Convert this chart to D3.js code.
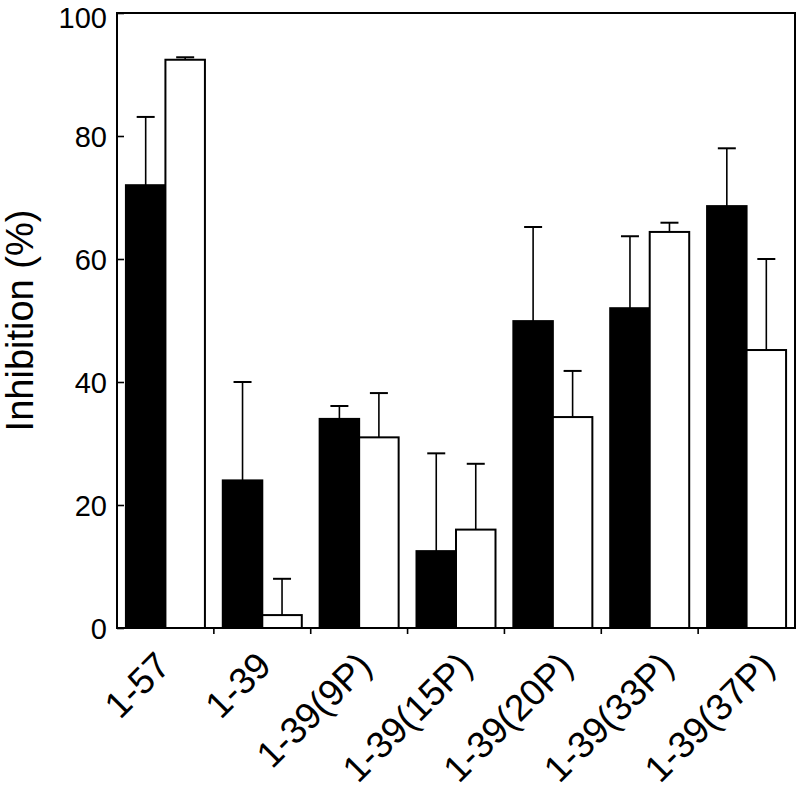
<!DOCTYPE html>
<html><head><meta charset="utf-8">
<script src="https://cdn.jsdelivr.net/npm/d3@7"></script>
<style>body{margin:0;background:#fff}</style></head>
<body><svg id="c" width="800" height="795"></svg>
<script>
const categories = ["1-57","1-39","1-39(9P)","1-39(15P)","1-39(20P)","1-39(33P)","1-39(37P)"];
const blackValues = [72.0, 24.0, 34.0, 12.5, 49.9, 52.0, 68.6];
const blackErrors = [11.1, 16.0, 2.1, 15.9, 15.3, 11.7, 9.4];
const whiteValues = [92.4, 2.1, 31.0, 16.0, 34.3, 64.4, 45.2];
const whiteErrors = [0.4, 5.9, 7.2, 10.7, 7.5, 1.5, 14.8];
const yTicks = [0, 20, 40, 60, 80, 100];

const svg = d3.select("#c");
const L = 117, R = 795, T = 13, B = 628;
const x = d3.scaleBand().domain(categories).range([L, R]);
const y = d3.scaleLinear().domain([0, 100]).range([B, T]);
const bw = 39.5;
const font = "Liberation Sans, Arial, sans-serif";

// frame
svg.append("rect").attr("x", L).attr("y", T).attr("width", R - L).attr("height", B - T)
  .attr("fill", "none").attr("stroke", "#000").attr("stroke-width", 2);

const series = [
  {vals: blackValues, errs: blackErrors, fill: "#000", off: -bw},
  {vals: whiteValues, errs: whiteErrors, fill: "#fff", off: 0}
];
series.forEach(s => {
  const g = svg.append("g");
  categories.forEach((c, i) => {
    const cx = x(c) + x.bandwidth() / 2 + s.off;
    const top = y(s.vals[i]);
    const ex = cx + bw / 2;
    const etop = y(s.vals[i] + s.errs[i]);
    g.append("line").attr("x1", ex).attr("x2", ex).attr("y1", top).attr("y2", etop)
      .attr("stroke", "#000").attr("stroke-width", 1.6);
    g.append("line").attr("x1", ex - 9).attr("x2", ex + 9).attr("y1", etop).attr("y2", etop)
      .attr("stroke", "#000").attr("stroke-width", 2);
    g.append("rect").attr("x", cx).attr("y", top).attr("width", bw).attr("height", B - top)
      .attr("fill", s.fill).attr("stroke", "#000").attr("stroke-width", 2);
  });
});

// y axis
const ya = svg.append("g").attr("transform", `translate(${L},0)`)
  .call(d3.axisRight(y).tickValues(yTicks).tickSize(7).tickFormat(d3.format("d")));
ya.select(".domain").remove();
ya.selectAll("line").attr("stroke", "#000").attr("stroke-width", 1.6);
ya.selectAll("text").attr("x", -10).attr("text-anchor", "end")
  .attr("font-family", font).attr("font-size", 29).attr("fill", "#000").attr("dy", "0.36em")
  .attr("y", d => d === 100 ? 4 : 0);

// x axis ticks at band boundaries
categories.slice(1).forEach(c => {
  svg.append("line").attr("x1", x(c)).attr("x2", x(c)).attr("y1", B).attr("y2", B + 6)
    .attr("stroke", "#000").attr("stroke-width", 1.6);
});
categories.forEach((c, i) => {
  const cx = x(c) + x.bandwidth() / 2 + 7 + 3.8 * i;
  svg.append("text").attr("transform", `translate(${cx},${B + 40}) rotate(-45)`)
    .attr("text-anchor", "end").attr("font-family", font).attr("font-size", 37)
    .attr("fill", "#000").text(c);
});

// y title
svg.append("text").attr("transform", `translate(33,${(T + B) / 2}) rotate(-90)`)
  .attr("text-anchor", "middle").attr("font-family", font).attr("font-size", 38)
  .attr("fill", "#000").text("Inhibition (%)");
</script></body></html>
